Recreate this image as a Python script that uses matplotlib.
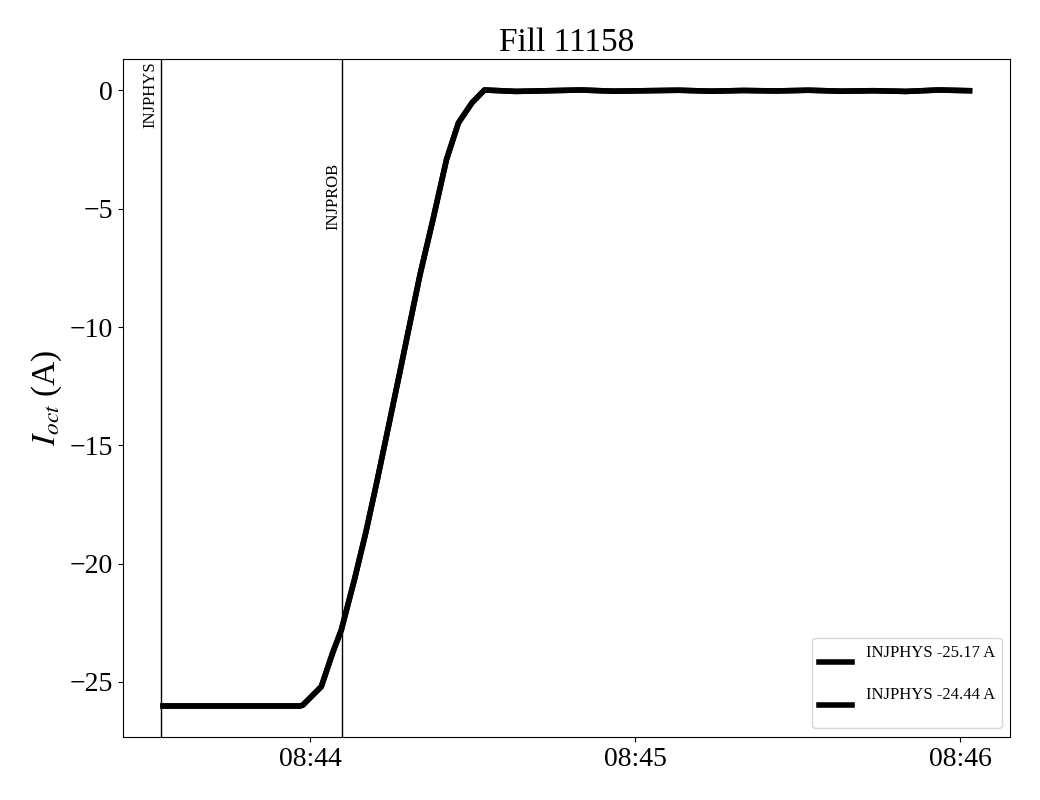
import matplotlib
matplotlib.use("Agg")
import matplotlib.pyplot as plt
import matplotlib.dates as mdates
import datetime as dt

plt.rcParams['font.family'] = 'serif'
plt.rcParams['font.serif'] = ['Liberation Serif', 'DejaVu Serif']
plt.rcParams['mathtext.fontset'] = 'stix'

# seconds relative to 08:44:00
t_sec = [-27.1, -22.0, -16.0, -10.0, -5.0, -1.8, -1.3, 2.1, 4.2, 5.8, 8.2, 10.3, 12.3,
         14.5, 16.6, 18.4, 20.3, 22.7, 25.2, 27.4, 29.9, 32.2,
         38.0, 44.0, 50.0, 56.0, 62.0, 68.0, 74.0, 80.0, 86.0, 92.0,
         98.0, 104.0, 110.0, 116.0, 121.7]
i_oct = [-26.02, -26.02, -26.02, -26.02, -26.02, -26.02, -25.98, -25.2, -23.77, -22.8,
         -20.69, -18.7, -16.6, -14.2, -11.9, -9.9, -7.8, -5.46, -2.92, -1.37, -0.52, 0.02,
         -0.04, -0.01, 0.02, -0.03, -0.01, 0.01, -0.03, 0.0, -0.02, 0.01,
         -0.03, -0.01, -0.04, 0.02, -0.01]
i_oct_b = list(i_oct)

labels = ['INJPHYS -25.17 A\n', 'INJPHYS -24.44 A\n']
t_injphys = -27.4
t_injprob = 6.0

t0 = dt.datetime(2018, 9, 20, 8, 44, 0)
times = [t0 + dt.timedelta(seconds=s) for s in t_sec]

fig = plt.figure(figsize=(10.4, 8), dpi=100)
ax = fig.add_subplot(111)
fig.subplots_adjust(left=0.118, right=0.971, bottom=0.079, top=0.926)

ax.plot(times, i_oct, 'k-', lw=4, label=labels[0])
ax.plot(times, i_oct_b, 'k-', lw=4, label=labels[1])
ax.margins(x=0.05, y=0.05)
ax.autoscale_view()
xl = ax.get_xlim()

xa = t0 + dt.timedelta(seconds=t_injphys)
xb = t0 + dt.timedelta(seconds=t_injprob)
ax.axvline(xa, color='k', lw=1)
ax.axvline(xb, color='k', lw=1)
ax.set_xlim(xl)

ylo, yhi = ax.get_ylim()
ax.annotate('INJPHYS', (xa, yhi - 0.1), xytext=(-2, 0), textcoords='offset points',
            rotation=90, ha='right', va='top', fontsize=12)
ax.annotate('INJPROB', (xb, -5.9), xytext=(-1, 0), textcoords='offset points',
            rotation=90, ha='right', va='bottom', fontsize=12)

ax.xaxis.set_major_locator(mdates.MinuteLocator())
ax.xaxis.set_major_formatter(mdates.DateFormatter('%H:%M'))
ax.tick_params(labelsize=20)
ax.set_ylabel('$I_{oct}$ (A)', fontsize=24)
ax.set_title('Fill 11158', fontsize=24)
ax.legend(loc='lower right', fontsize=12)

plt.savefig('out.png', dpi=100)
